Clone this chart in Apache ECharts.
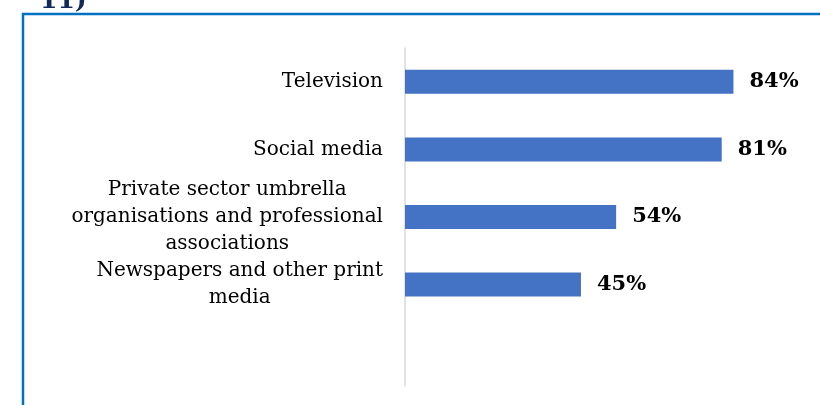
<!DOCTYPE html>
<html><head><meta charset="utf-8">
<script src="https://cdn.jsdelivr.net/npm/echarts@6/dist/echarts.min.js"></script>
<style>html,body{margin:0;padding:0;background:#fff}#c{width:820px;height:405px}</style>
</head><body><div id="c"></div>
<script>
const titleText = '11)';
const categories = ['Television', 'Social media', 'Private sector umbrella\norganisations and professional\nassociations', 'Newspapers and other print\nmedia'];
const values = [84, 81, 54, 45];

const chart = echarts.init(document.getElementById('c'), null, {renderer: 'canvas'});
const serif = '"DejaVu Serif", serif';
chart.setOption({
  animation: false,
  backgroundColor: '#fff',
  graphic: [
    {type: 'text', left: 40, top: -11, style: {text: titleText, font: 'bold 25px ' + serif, fill: '#12295A'}},
    {type: 'polyline', shape: {points: [[23, 405], [23, 14], [820, 14]]}, style: {stroke: '#0070C0', lineWidth: 2.5, fill: null}}
  ],
  grid: {left: 405, right: 24, top: 48, bottom: 19, containLabel: false},
  xAxis: {type: 'value', min: 0, max: 100, show: false, splitLine: {show: false}},
  yAxis: {
    type: 'category', inverse: true, data: categories, max: 4,
    axisTick: {show: false},
    axisLine: {lineStyle: {color: '#D9D9D9', width: 1.5}},
    axisLabel: {
      margin: 22, align: 'right', fontFamily: serif, fontSize: 20, color: '#000', lineHeight: 27,
      formatter: v => (v ? v.split('\n').map(l => '{c|' + l + '}').join('\n') : ''),
      rich: {c: {align: 'center', fontFamily: serif, fontSize: 20, color: '#000', lineHeight: 27}}
    }
  },
  series: [{
    type: 'bar', data: values, barWidth: 24,
    itemStyle: {color: '#4472C4'},
    label: {show: true, position: 'right', distance: 16, formatter: '{c}%', fontFamily: serif, fontWeight: 'bold', fontSize: 21, color: '#000'}
  }]
});
</script></body></html>
